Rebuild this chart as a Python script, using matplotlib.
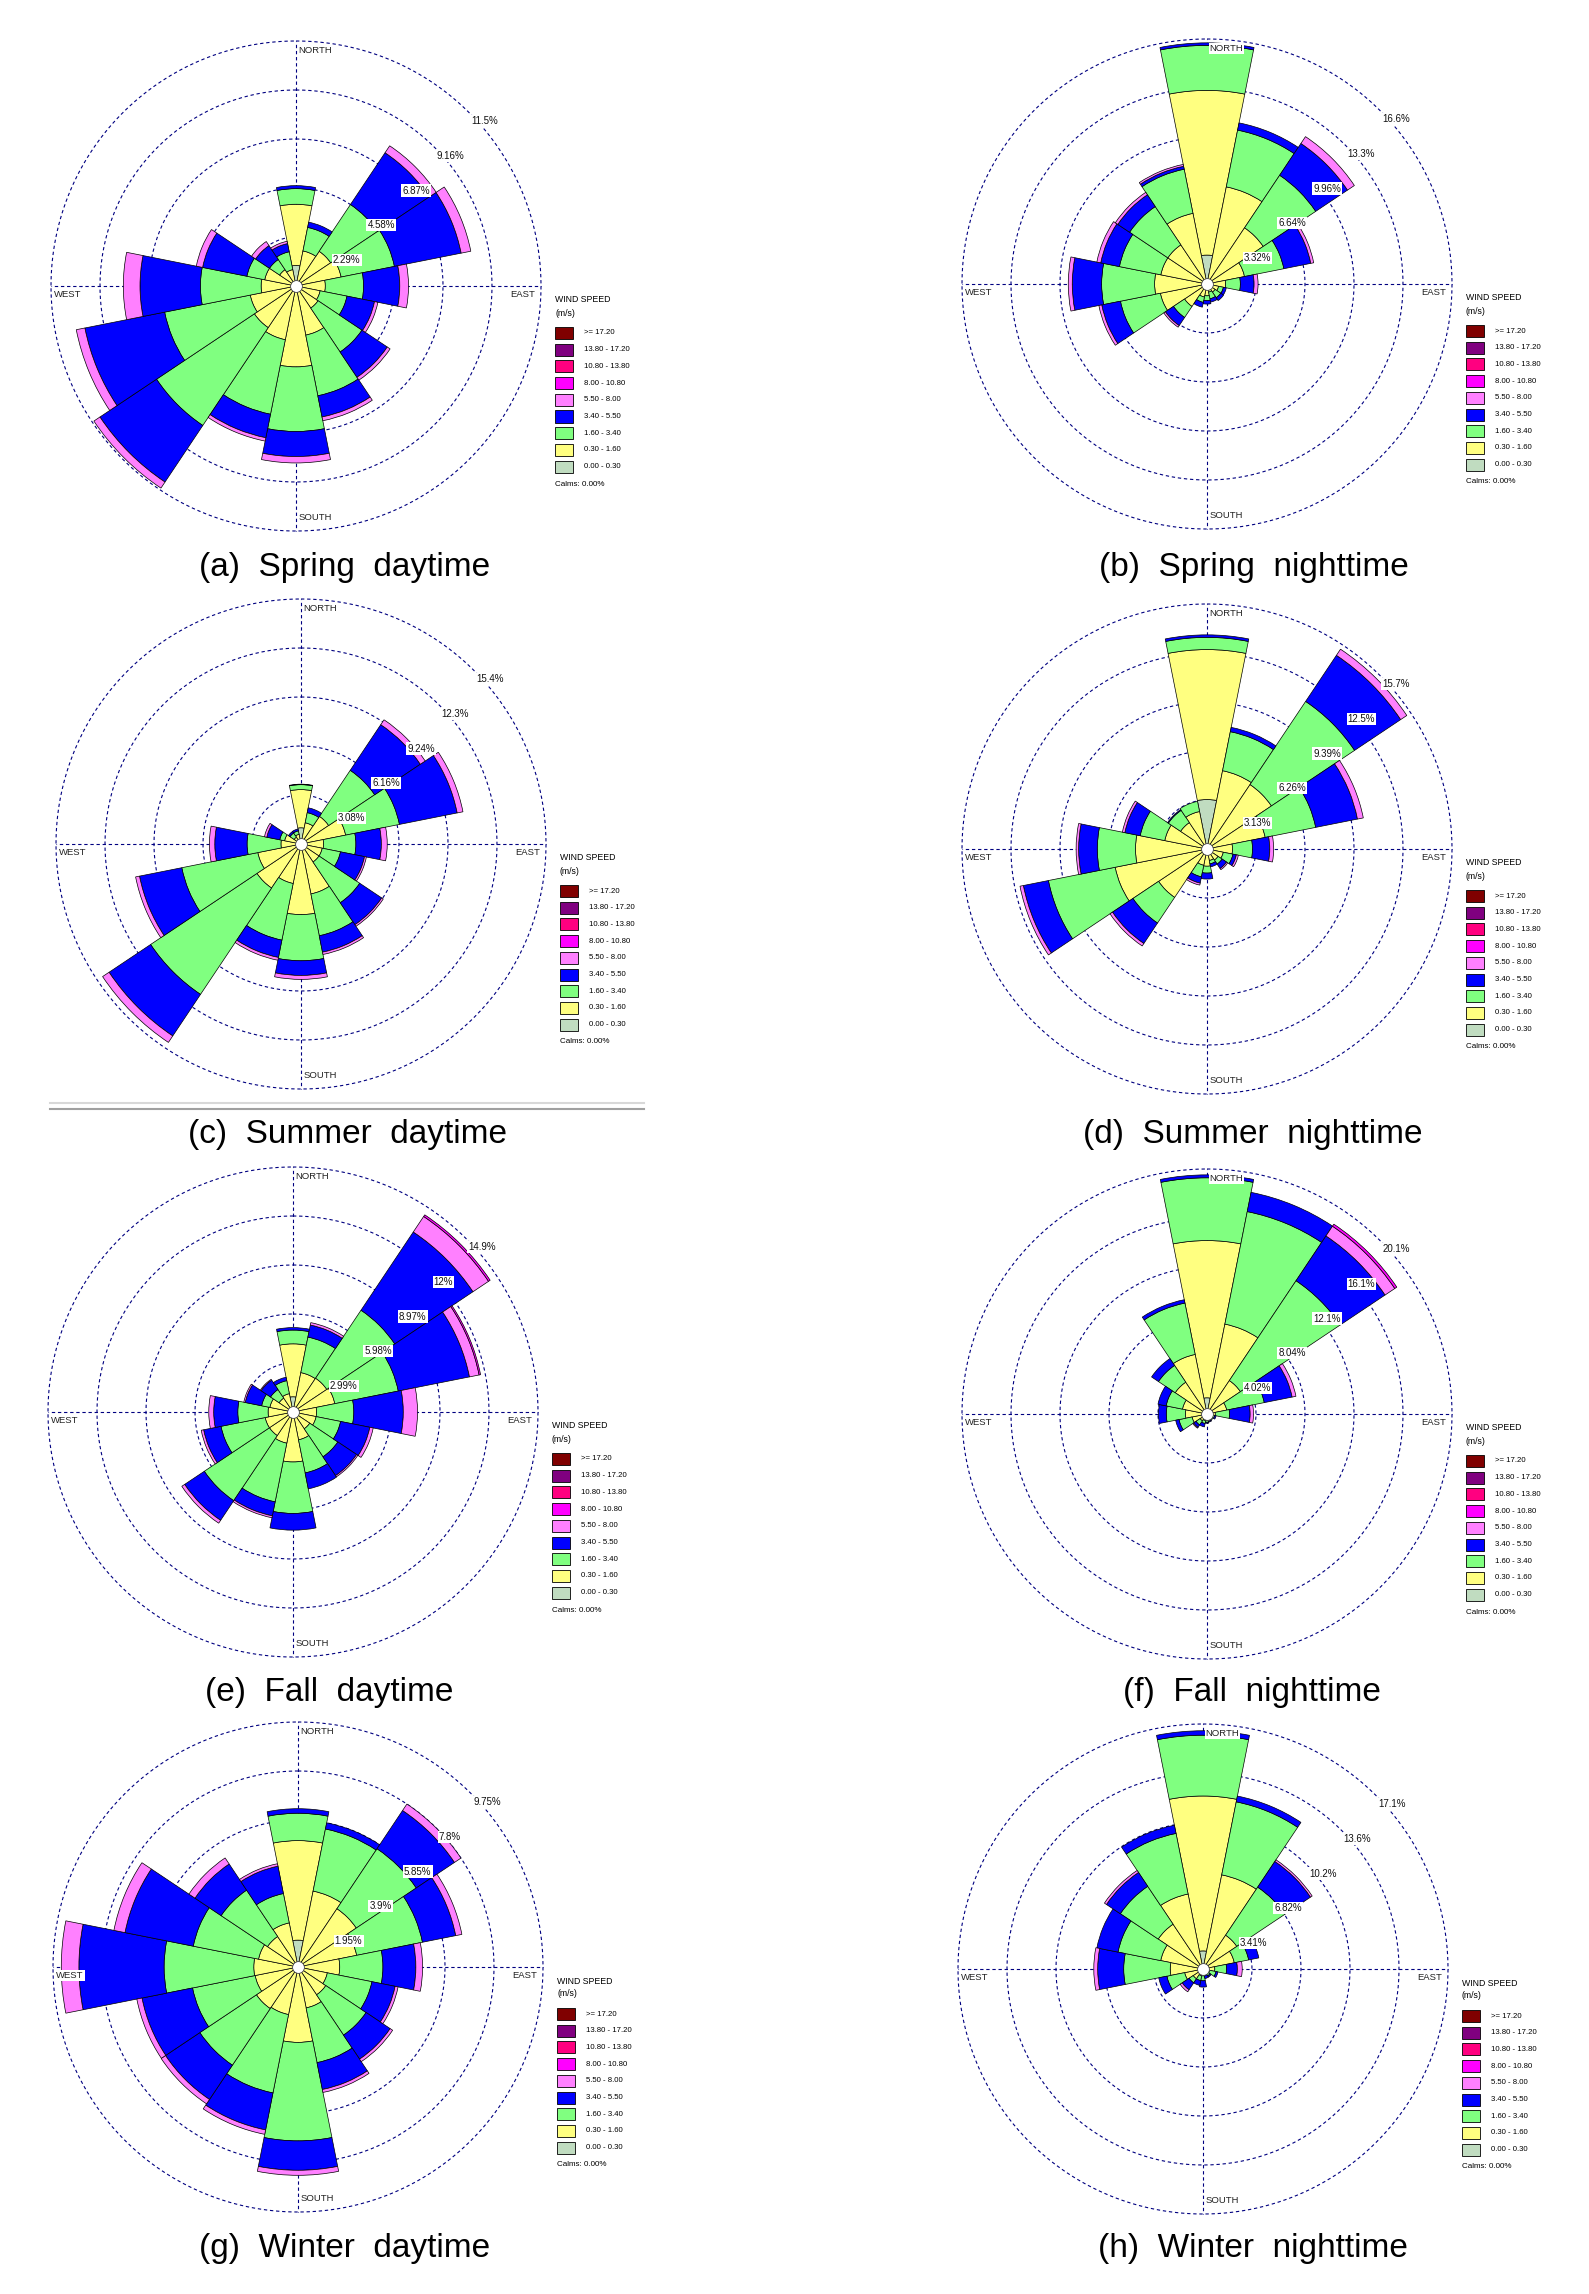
import numpy as np
import matplotlib.pyplot as plt
from matplotlib.patches import Rectangle
from matplotlib.lines import Line2D

plt.rcParams['font.family'] = ['Liberation Sans', 'DejaVu Sans']

W, H = 1589, 2294
fig = plt.figure(figsize=(W / 100, H / 100), dpi=100)

# 16 compass sectors, clockwise from north
directions = ["N", "NNE", "NE", "ENE", "E", "ESE", "SE", "SSE",
              "S", "SSW", "SW", "WSW", "W", "WNW", "NW", "NNW"]

# frequency (%) per sector, columns = speed classes (m/s)
speed_classes = ["0.00-0.30", "0.30-1.60", "1.60-3.40", "3.40-5.50", "5.50-8.00", "8.00-10.80"]
class_colors = ["#C0DCC0", "#FFFF80", "#80FF80", "#0000FF", "#FF80FF", "#FF00FF"]

spring_day = [
    [0.96, 2.86, 0.73, 0.14, 0, 0], [0, 1.67, 1.12, 0.25, 0, 0],
    [0, 1.95, 2.63, 2.91, 0.39, 0], [0, 2.15, 2.54, 3.18, 0.46, 0],
    [0, 1.37, 1.79, 1.69, 0.41, 0], [0, 1.15, 1.28, 1.31, 0.16, 0],
    [0, 1.24, 2.47, 1.42, 0.16, 0], [0, 2.34, 2.89, 1.01, 0.18, 0],
    [0, 3.78, 3.02, 1.17, 0.30, 0], [0, 2.56, 3.55, 1.12, 0.16, 0],
    [0, 2.34, 5.50, 3.18, 0.34, 0], [0, 2.18, 4.08, 3.80, 0.41, 0],
    [0, 1.63, 2.84, 2.82, 0.78, 0], [0, 1.49, 0.85, 2.11, 0.30, 0],
    [0, 0.92, 0.57, 0.78, 0.23, 0], [0, 0.78, 0.85, 0.39, 0.11, 0],
]
spring_night = [
    [1.96, 11.16, 3.05, 0.17, 0, 0], [0, 6.71, 3.92, 0.50, 0, 0],
    [0, 4.58, 4.28, 2.59, 0.56, 0], [0, 2.59, 2.72, 1.86, 0.20, 0],
    [0, 1.26, 1.00, 0.93, 0.27, 0], [0, 0.80, 0.33, 0.20, 0, 0],
    [0, 0.66, 0.46, 0.23, 0, 0], [0, 0.56, 0.46, 0.23, 0, 0],
    [0, 0.80, 0.33, 0.23, 0, 0], [0, 0.90, 0.37, 0.33, 0, 0],
    [0, 1.83, 0.90, 0.66, 0.13, 0], [0, 3.22, 2.76, 1.29, 0.20, 0],
    [0, 3.55, 3.59, 1.99, 0.27, 0], [0, 3.19, 2.86, 1.29, 0.27, 0],
    [0, 3.19, 3.12, 0.96, 0.20, 0], [0, 4.88, 3.05, 0.20, 0.13, 0],
]
summer_day = [
    [1.02, 2.40, 0.31, 0.03, 0, 0], [0, 1.36, 0.65, 0.31, 0, 0],
    [0, 2.09, 3.48, 3.45, 0.37, 0], [0, 2.86, 3.45, 3.70, 0.37, 0],
    [0, 1.42, 2.03, 1.60, 0.37, 0], [0, 1.36, 1.17, 1.54, 0.12, 0],
    [0, 1.36, 3.08, 1.66, 0.12, 0], [0, 3.20, 2.68, 1.05, 0.15, 0],
    [0, 4.44, 2.90, 0.92, 0.25, 0], [0, 2.53, 3.63, 1.11, 0.18, 0],
    [0, 3.33, 8.04, 3.14, 0.49, 0], [0, 2.77, 4.87, 2.71, 0.25, 0],
    [0, 1.26, 2.13, 2.03, 0.34, 0], [0, 1.05, 0.31, 0.83, 0.15, 0],
    [0, 0.52, 0.31, 0.12, 0, 0], [0, 0.62, 0.22, 0.12, 0, 0],
]
summer_night = [
    [3.16, 9.58, 0.78, 0.16, 0, 0], [0, 5.10, 2.54, 0.28, 0, 0],
    [0, 4.95, 6.39, 3.54, 0.47, 0], [0, 3.79, 3.29, 2.72, 0.38, 0],
    [0, 1.63, 1.28, 1.10, 0.25, 0], [0, 1.06, 0.63, 0.22, 0.13, 0],
    [0, 0.85, 0.31, 0.34, 0.09, 0], [0, 0.75, 0.22, 0.19, 0, 0],
    [0, 1.10, 0.44, 0.38, 0, 0], [0, 1.06, 0.75, 0.41, 0.13, 0],
    [0, 3.72, 1.97, 1.57, 0.19, 0], [0, 5.98, 4.35, 1.63, 0.22, 0],
    [0, 4.57, 2.44, 1.19, 0.16, 0], [0, 2.75, 1.60, 1.00, 0.16, 0],
    [0, 2.03, 0.94, 0.06, 0, 0], [0, 2.44, 0.66, 0, 0, 0],
]
fall_day = [
    [0.93, 3.23, 0.84, 0.15, 0, 0], [0, 2.45, 2.21, 0.75, 0.15, 0],
    [0, 2.48, 4.99, 5.74, 1.14, 0.12], [0, 2.60, 3.95, 4.43, 0.60, 0.09],
    [0, 1.44, 2.27, 3.02, 0.87, 0], [0, 1.44, 1.52, 1.82, 0.21, 0],
    [0, 1.23, 2.06, 1.38, 0.09, 0], [0, 1.73, 2.06, 0.99, 0, 0],
    [0, 3.05, 3.14, 1.02, 0, 0], [0, 1.94, 3.65, 0.87, 0.12, 0],
    [0, 1.73, 4.78, 1.44, 0.21, 0], [0, 1.73, 2.75, 1.08, 0.15, 0],
    [0, 1.52, 1.85, 1.47, 0.30, 0], [0, 1.44, 0.51, 1.02, 0.09, 0],
    [0, 1.02, 0.63, 0.69, 0.06, 0], [0, 1.14, 0.81, 0.21, 0, 0],
]
fall_night = [
    [1.33, 12.90, 5.15, 0.24, 0, 0], [0, 7.52, 9.41, 1.61, 0, 0],
    [0, 3.30, 9.85, 4.42, 0.96, 0.20], [0, 1.65, 3.14, 2.33, 0.32, 0],
    [0, 0.68, 1.17, 1.69, 0.28, 0], [0, 0.48, 0.16, 0.12, 0, 0],
    [0, 0.40, 0.20, 0, 0, 0], [0, 0.40, 0.20, 0.08, 0, 0],
    [0, 0.56, 0.12, 0.08, 0, 0], [0, 0.56, 0.24, 0.28, 0, 0],
    [0, 0.68, 0.40, 0.24, 0.08, 0], [0, 1.25, 1.09, 0.28, 0, 0],
    [0, 1.77, 1.57, 0.64, 0, 0], [0, 2.05, 1.37, 0.68, 0, 0],
    [0, 3.14, 1.65, 0.68, 0, 0], [0, 4.98, 4.30, 0.28, 0, 0],
]
winter_day = [
    [1.07, 3.96, 1.09, 0.18, 0, 0], [0, 3.08, 2.52, 0.25, 0, 0],
    [0, 2.79, 2.87, 1.83, 0.31, 0], [0, 2.38, 2.67, 1.35, 0.25, 0],
    [0, 1.66, 1.72, 1.31, 0.27, 0], [0, 1.19, 1.81, 0.94, 0.12, 0],
    [0, 1.33, 1.93, 1.15, 0.12, 0], [0, 1.66, 2.22, 1.09, 0.12, 0],
    [0, 3.00, 3.92, 1.17, 0.20, 0], [0, 1.93, 3.18, 1.50, 0.18, 0],
    [0, 1.99, 2.71, 1.64, 0.21, 0], [0, 1.74, 2.54, 2.05, 0.21, 0],
    [0, 1.76, 3.57, 3.39, 0.70, 0], [0, 1.60, 2.65, 2.77, 0.45, 0],
    [0, 1.46, 2.22, 1.25, 0.29, 0], [0, 1.79, 1.19, 1.11, 0.10, 0],
]
winter_night = [
    [1.26, 10.78, 4.23, 0.31, 0, 0], [0, 6.68, 5.18, 0.41, 0, 0],
    [0, 2.83, 4.02, 2.15, 0.14, 0], [0, 2.22, 1.02, 0.72, 0, 0],
    [0, 0.82, 0.82, 0.75, 0.34, 0], [0, 0.48, 0.44, 0.14, 0, 0],
    [0, 0.34, 0.24, 0.10, 0, 0], [0, 0.34, 0.14, 0.20, 0, 0],
    [0, 0.48, 0.34, 0.44, 0, 0], [0, 0.48, 0.34, 0.34, 0, 0],
    [0, 0.82, 0.34, 0.58, 0.17, 0], [0, 1.30, 1.26, 0.58, 0, 0],
    [0, 2.28, 3.24, 1.81, 0.27, 0], [0, 3.00, 3.03, 1.50, 0, 0],
    [0, 3.75, 3.17, 1.16, 0.17, 0], [0, 5.32, 4.30, 0.58, 0, 0],
]

# ring spacing (%) and the ring labels printed on each rose
ring_steps = [2.29, 3.32, 3.08, 3.13, 2.99, 4.02, 1.95, 3.41]
ring_labels = [
    ["2.29%", "4.58%", "6.87%", "9.16%", "11.5%"],
    ["3.32%", "6.64%", "9.96%", "13.3%", "16.6%"],
    ["3.08%", "6.16%", "9.24%", "12.3%", "15.4%"],
    ["3.13%", "6.26%", "9.39%", "12.5%", "15.7%"],
    ["2.99%", "5.98%", "8.97%", "12%", "14.9%"],
    ["4.02%", "8.04%", "12.1%", "16.1%", "20.1%"],
    ["1.95%", "3.9%", "5.85%", "7.8%", "9.75%"],
    ["3.41%", "6.82%", "10.2%", "13.6%", "17.1%"],
]
captions = ["(a)  Spring  daytime", "(b)  Spring  nighttime",
            "(c)  Summer  daytime", "(d)  Summer  nighttime",
            "(e)  Fall  daytime", "(f)  Fall  nighttime",
            "(g)  Winter  daytime", "(h)  Winter  nighttime"]
panels = [spring_day, spring_night, summer_day, summer_night,
          fall_day, fall_night, winter_day, winter_night]

legend_labels = [">= 17.20", "13.80 - 17.20", "10.80 - 13.80", "8.00 - 10.80",
                 "5.50 - 8.00", "3.40 - 5.50", "1.60 - 3.40", "0.30 - 1.60", "0.00 - 0.30"]
legend_colors = ["#800000", "#800080", "#FF0080", "#FF00FF", "#FF80FF",
                 "#0000FF", "#80FF80", "#FFFF80", "#C0DCC0"]

# layout in pixels (rose centre, caption centre)
centers = [(296, 286), (1207, 284), (301, 844), (1207, 849),
           (293, 1412), (1207, 1414), (298, 1967), (1203, 1969)]
caption_pos = [(345, 568), (1254, 568), (347, 1135), (1253, 1135),
               (329, 1693), (1252, 1693), (345, 2249), (1253, 2249)]
R_PX = 245
NAVY = "#000080"
dash = (0, (3, 2.5))


def fx(x):
    return x / W


def fy(y):
    return 1 - y / H


theta = np.arange(16) * 2 * np.pi / 16
width = 2 * np.pi / 16

for k, data in enumerate(panels):
    cx, cy = centers[k]
    step = ring_steps[k]
    ax = fig.add_axes([fx(cx - R_PX), fy(cy + R_PX), 2 * R_PX / W, 2 * R_PX / H],
                      projection="polar")
    ax.set_theta_zero_location("N")
    ax.set_theta_direction(-1)
    ax.set_ylim(0, 5 * step)
    ax.axis("off")

    # dashed rings and compass cross
    circ = np.linspace(0, 2 * np.pi, 500)
    for i in range(1, 6):
        ax.plot(circ, np.full_like(circ, i * step), ls=dash, color=NAVY,
                lw=0.8, zorder=1, clip_on=False)
    for a in [0, np.pi / 2, np.pi, 3 * np.pi / 2]:
        ax.plot([a, a], [0, 5 * step], ls=dash, color=NAVY, lw=0.8, zorder=1, clip_on=False)

    # stacked bars
    vals = np.array(data)
    bottom = np.zeros(16)
    for j, col in enumerate(class_colors):
        h = vals[:, j]
        m = h > 0
        if m.any():
            ax.bar(theta[m], h[m], width=width, bottom=bottom[m], color=col,
                   edgecolor="black", linewidth=0.5, zorder=2)
        bottom = bottom + h

    ax.plot(0, 0, "o", ms=8.5, mfc="white", mec="#444444", mew=0.6, zorder=4, clip_on=False)

    # ring labels on the NE diagonal
    for i, lbl in enumerate(ring_labels[k]):
        ax.annotate(lbl, xy=(np.pi / 4, (i + 1) * step), xytext=(1.5, -2.5),
                    textcoords="offset points", ha="left", va="top", fontsize=7,
                    color="#111111", zorder=6, annotation_clip=False,
                    bbox=dict(boxstyle="square,pad=0.12", fc="white", ec="none"))

    # compass labels
    box = dict(boxstyle="square,pad=0.1", fc="white", ec="none")
    ax.text(0.5 + 2.7 / 490, 0.5 + 235.7 / 490, "NORTH", transform=ax.transAxes,
            ha="left", va="center", fontsize=6.8, color="#222222", zorder=6, bbox=box)
    ax.text(0.5 + 2.7 / 490, 0.5 - 231.7 / 490, "SOUTH", transform=ax.transAxes,
            ha="left", va="center", fontsize=6.8, color="#222222", zorder=6, bbox=box)
    ax.text(0.5 - 241.7 / 490, 0.5 - 8.7 / 490, "WEST", transform=ax.transAxes,
            ha="left", va="center", fontsize=6.8, color="#222222", zorder=6, bbox=box)
    ax.text(0.5 + 239.3 / 490, 0.5 - 8.7 / 490, "EAST", transform=ax.transAxes,
            ha="right", va="center", fontsize=6.8, color="#222222", zorder=6, bbox=box)

    # legend
    lx = cx + 259
    fig.text(fx(lx), fy(cy + 14), "WIND SPEED", fontsize=6.3, ha="left", va="center")
    fig.text(fx(lx), fy(cy + 27), "(m/s)", fontsize=6.3, ha="left", va="center")
    for i, (lab, col) in enumerate(zip(legend_labels, legend_colors)):
        yc = cy + 47 + i * 16.7
        fig.add_artist(Rectangle((fx(lx), fy(yc + 6)), 18 / W, 12 / H, facecolor=col,
                                 edgecolor="black", linewidth=0.6, transform=fig.transFigure))
        fig.text(fx(lx + 29), fy(yc), lab, fontsize=5.6, ha="left", va="center")
    fig.text(fx(lx), fy(cy + 198), "Calms: 0.00%", fontsize=5.8, ha="left", va="center")

    # caption
    px, py = caption_pos[k]
    fig.text(fx(px), fy(py), captions[k], fontsize=24, ha="center", va="center")

# separator line under panel (c)
fig.add_artist(Line2D([fx(50), fx(644)], [fy(1103), fy(1103)], color="#d8d8d8", lw=1.5))
fig.add_artist(Line2D([fx(50), fx(644)], [fy(1109), fy(1109)], color="#a0a0a0", lw=1.5))

fig.savefig("out.png", dpi=100, facecolor="white")
